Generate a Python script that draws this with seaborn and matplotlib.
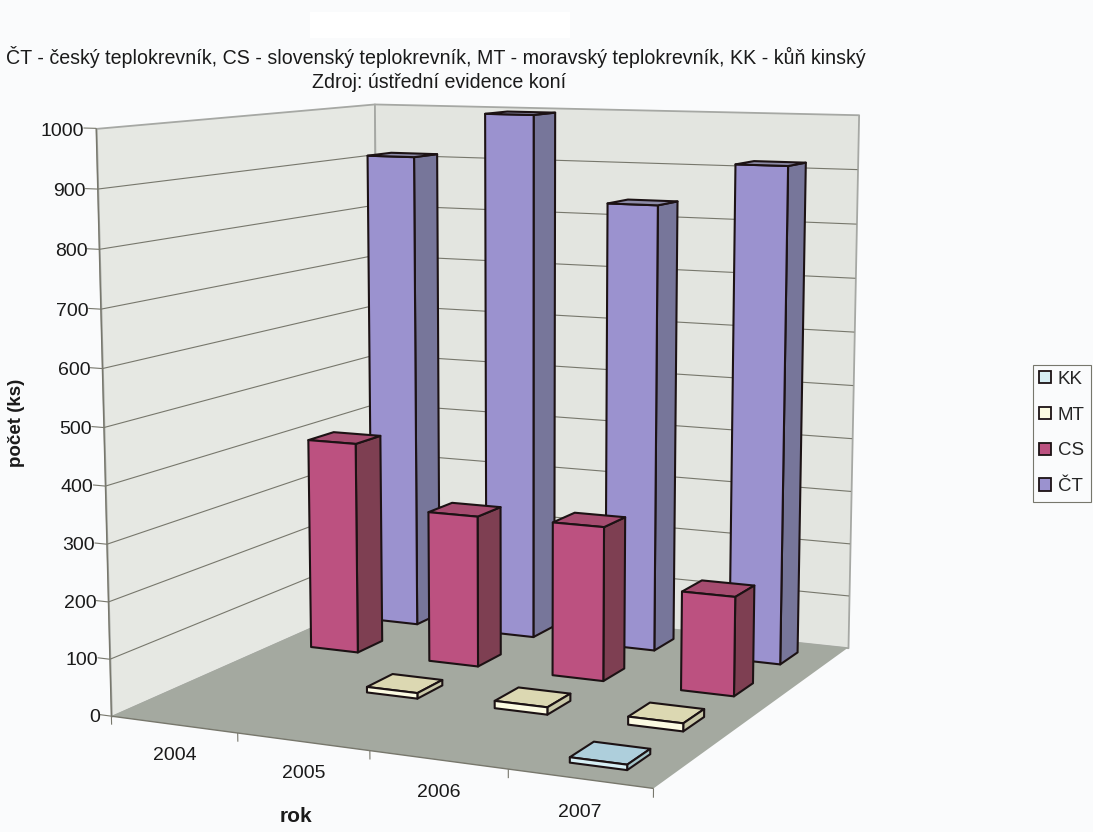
import numpy as np
import matplotlib
matplotlib.use("Agg")
import matplotlib.pyplot as plt
from matplotlib.patches import Patch, Rectangle
from mpl_toolkits.mplot3d import proj3d
from mpl_toolkits.mplot3d.art3d import Poly3DCollection, Line3DCollection
import seaborn as sns

# Data
years = ["2004", "2005", "2006", "2007"]
series = ["KK", "MT", "CS", "ČT"]
kk_values = [0, 0, 0, 9]
mt_values = [0, 10, 13, 14]
cs_values = [396, 280, 282, 179]
ct_values = [910, 995, 836, 915]
z_ticks = list(range(0, 1100, 100))

title_lines = ["ČT - český teplokrevník, CS - slovenský teplokrevník, MT - moravský teplokrevník, KK - kůň kinský",
               "Zdroj: ústřední evidence koní"]

sns.set_theme(style="white")
plt.rcParams["font.family"] = ["Liberation Sans", "DejaVu Sans"]

W, H = 1093, 832
BG = "#fafbfc"
front = sns.color_palette(["#d6eef4", "#fcfbe2", "#bc5180", "#9b92cf"])
top = sns.color_palette(["#aecfdc", "#dcd8b2", "#a64c70", "#8d8ba8"])
side = sns.color_palette(["#a4c4c8", "#c9c8a8", "#7e3f52", "#77769a"])
EDGE = "#1c1214"
GRID = "#77776c"
INK = "#1a1a1a"


def camera_matrix():
    """Perspective camera calibrated on the corners of the plot box."""
    world = [(0, 0, 0), (4, 0, 0), (4, 4, 0), (0, 4, 0),
             (0, 0, 1000), (0, 4, 1000), (4, 4, 1000)]
    image = [(113, 716), (653, 789), (849, 647), (377, 598),
             (95, 128), (376, 104), (858, 115)]
    rows, rhs = [], []
    for (x, y, z), (u, v) in zip(world, image):
        rows.append([x, y, z, 1, 0, 0, 0, 0, -u * x, -u * y, -u * z])
        rows.append([0, 0, 0, 0, x, y, z, 1, -v * x, -v * y, -v * z])
        rhs += [u, v]
    p = np.linalg.lstsq(np.array(rows, float), np.array(rhs, float), rcond=None)[0]
    return np.array([p[:4], p[4:8], [0, 0, 0, -1], [p[8], p[9], p[10], 1.0]])


fig = plt.figure(figsize=(W / 100, H / 100), dpi=100, facecolor=BG)
fig.add_artist(Rectangle((310 / W, 1 - 38 / H), 260 / W, 26 / H, transform=fig.transFigure,
                         facecolor="white", edgecolor="none"))

ax = fig.add_axes([0, 0, 1, 1], projection="3d", computed_zorder=False)
ax.set_axis_off()
ax.patch.set_visible(False)
ax.apply_aspect = lambda position=None: None
camera = camera_matrix()
ax.get_proj = lambda: camera


def add_faces(faces, colors, zorder, edge, lw):
    ax.add_collection3d(Poly3DCollection(faces, facecolors=colors, edgecolors=edge,
                                         linewidths=lw, zorder=zorder))


def add_lines(segments, lw, zorder=3):
    ax.add_collection3d(Line3DCollection(segments, colors=GRID, linewidths=lw, zorder=zorder))


def add_label(x, y, z, text, ha):
    u, v, _ = proj3d.proj_transform(x, y, z, camera)
    ax.text2D(u, v, text, transform=ax.transData, ha=ha, va="center", fontsize=14,
              color=INK, zorder=30)


# Walls and floor
add_faces([[(0, 0, 0), (0, 4, 0), (0, 4, 1000), (0, 0, 1000)]], ["#e6e8e3"], 1, "#a6a8a4", 1.3)
add_faces([[(0, 4, 0), (4, 4, 0), (4, 4, 1000), (0, 4, 1000)]], ["#e3e5e0"], 1, "#a6a8a4", 1.3)
add_faces([[(0, 0, 0), (4, 0, 0), (4, 4, 0), (0, 4, 0)]], ["#a4a9a0"], 2, "none", 0)

# Gridlines and tick marks
grid_segments = []
for z in z_ticks[1:-1]:
    grid_segments.append([(0, 0, z), (0, 4, z)])
    grid_segments.append([(0, 4, z), (4, 4, z)])
add_lines(grid_segments, 0.8)
add_lines([[(-0.1, 0, z), (0, 0, z)] for z in z_ticks], 0.8)
add_lines([[(i, 0, -15), (i, 0, 0)] for i in range(5)], 0.8)
add_lines([[(0, 0, 0), (0, 0, 1000)], [(0, 0, 0), (4, 0, 0)]], 1.0)

for z in z_ticks:
    add_label(-0.095, 0, z - 5, str(z), "right")
for i, year in enumerate(years):
    add_label(i + 0.5, 0, -55, year, "center")

# Bars, drawn from the back row to the front
BAR = 0.4
values_by_row = [kk_values, mt_values, cs_values, ct_values]
for row in range(3, -1, -1):
    for col, value in enumerate(values_by_row[row]):
        if value <= 0:
            continue
        x0, x1 = col + 0.5 - BAR / 2, col + 0.5 + BAR / 2
        y0, y1 = row + 0.5 - BAR / 2, row + 0.5 + BAR / 2
        faces = [[(x0, y0, value), (x1, y0, value), (x1, y1, value), (x0, y1, value)],
                 [(x0, y0, 0), (x1, y0, 0), (x1, y0, value), (x0, y0, value)],
                 [(x1, y0, 0), (x1, y1, 0), (x1, y1, value), (x1, y0, value)]]
        add_faces(faces, [top[row], front[row], side[row]], 10 + (3 - row) * 4 + col, EDGE, 1.5)

ax.viewLim.intervalx = (0, W)
ax.viewLim.intervaly = (H, 0)

# Titles and axis names
fig.text(436 / W, 1 - 57 / H, title_lines[0], ha="center", va="center", fontsize=14.1, color=INK)
fig.text(439.5 / W, 1 - 83 / H, title_lines[1], ha="center", va="center", fontsize=14.1, color=INK)
fig.text(296 / W, 1 - 816 / H, "rok", ha="center", va="center", fontsize=15, fontweight="bold", color=INK)
fig.text(17 / W, 1 - 423 / H, "počet (ks)", ha="center", va="center", rotation=90, fontsize=13.5,
         fontweight="bold", color=INK)

# Legend
handles = [Patch(facecolor=front[i], edgecolor=EDGE, linewidth=1.3, label=series[i]) for i in range(4)]
leg = fig.legend(handles=handles, loc="center left", bbox_to_anchor=(1033 / W, 1 - 433 / H),
                 borderaxespad=0, fontsize=13.5, labelspacing=1.0, handlelength=0.64, handleheight=0.64,
                 handletextpad=0.35, borderpad=0.34, fancybox=False, framealpha=1, facecolor=BG,
                 edgecolor=GRID)
leg.get_frame().set_linewidth(0.8)

fig.savefig("out.png", dpi=100, facecolor=BG)
